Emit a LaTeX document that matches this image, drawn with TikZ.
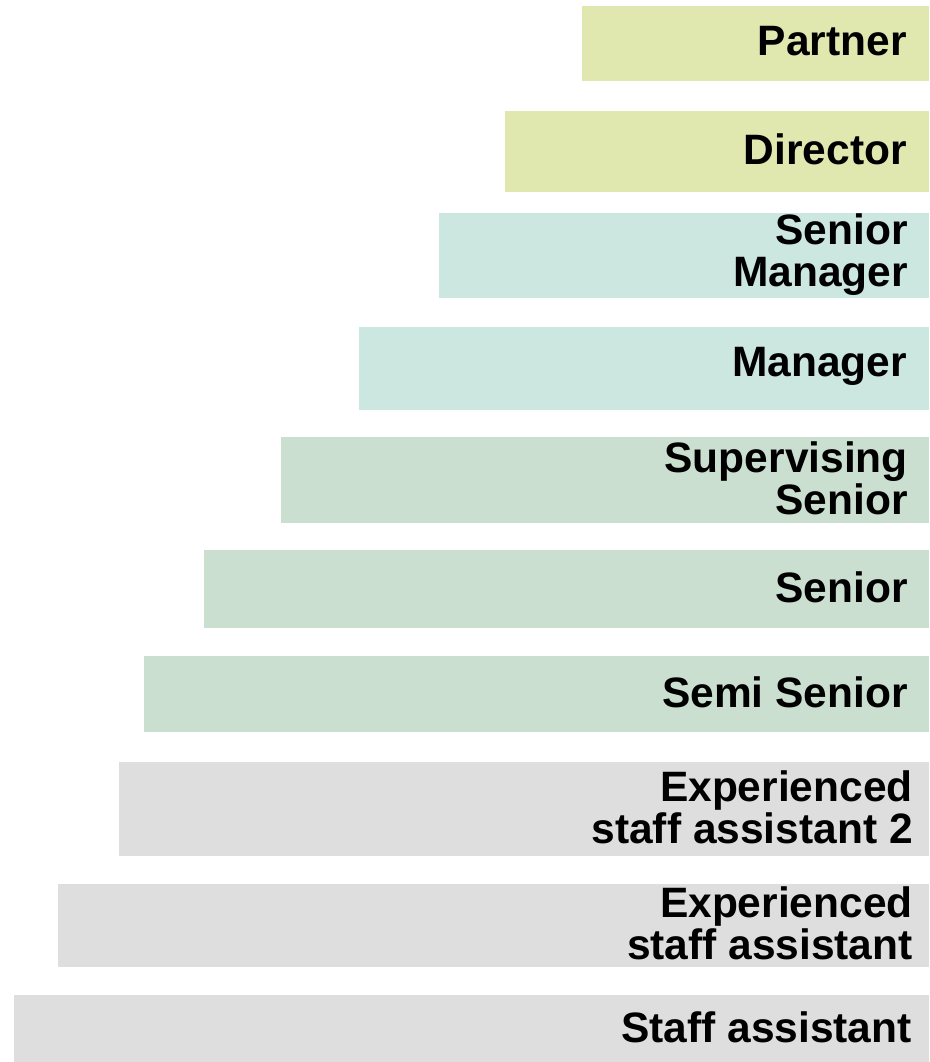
\documentclass[tikz,border=0pt]{standalone}
\usepackage{fontspec}
\setmainfont{Liberation Sans}
\definecolor{cyel}{RGB}{224,232,176}
\definecolor{cteal}{RGB}{204,230,224}
\definecolor{cgreen}{RGB}{202,223,208}
\definecolor{cgray}{RGB}{222,222,222}
\begin{document}
\begin{tikzpicture}[x=1pt,y=-1pt,
  bar/.style={draw=none,inner sep=0pt,outer sep=0pt,anchor=north west},
  lbl/.style={anchor=east,inner sep=0pt,align=right,font=\fontsize{42.5}{42}\selectfont\bfseries}]
\useasboundingbox (0,0) rectangle (929,1062);
\path[fill=white] (0,0) rectangle (929,1062);
% bars
\node[bar,fill=cyel,  minimum width=347pt,minimum height=75pt] (b1) at (582,6) {};
\node[bar,fill=cyel,  minimum width=424pt,minimum height=81pt] (b2) at (505,111) {};
\node[bar,fill=cteal, minimum width=490pt,minimum height=85pt] (b3) at (439,213) {};
\node[bar,fill=cteal, minimum width=570pt,minimum height=83pt] (b4) at (359,327) {};
\node[bar,fill=cgreen,minimum width=648pt,minimum height=86pt] (b5) at (281,437) {};
\node[bar,fill=cgreen,minimum width=725pt,minimum height=78pt] (b6) at (204,550) {};
\node[bar,fill=cgreen,minimum width=785pt,minimum height=76pt] (b7) at (144,656) {};
\node[bar,fill=cgray, minimum width=810pt,minimum height=94pt] (b8) at (119,762) {};
\node[bar,fill=cgray, minimum width=871pt,minimum height=83pt] (b9) at (58,884) {};
\node[bar,fill=cgray, minimum width=915pt,minimum height=67pt] (b10) at (14,995) {};
% labels
\node[lbl] (partner) at (907,41.5) {Partner};
\node[lbl] (director) at (907,149.5) {Director};
\node[lbl] (smgr) at (908,254.5) {Senior\\Manager};
\node[lbl] (mgr) at (907,366.5) {Manager};
\node[lbl] (ssen) at (908,478) {Supervising\\Senior};
\node[lbl] (senior) at (908,587) {Senior};
\node[lbl] (semi) at (908,692) {Semi Senior};
\node[lbl] (exp2) at (913,807) {Experienced\\staff assistant 2};
\node[lbl] (exp) at (913,923.5) {Experienced\\staff assistant};
\node[lbl] (staff) at (912,1027) {Staff assistant};
\end{tikzpicture}
\end{document}
